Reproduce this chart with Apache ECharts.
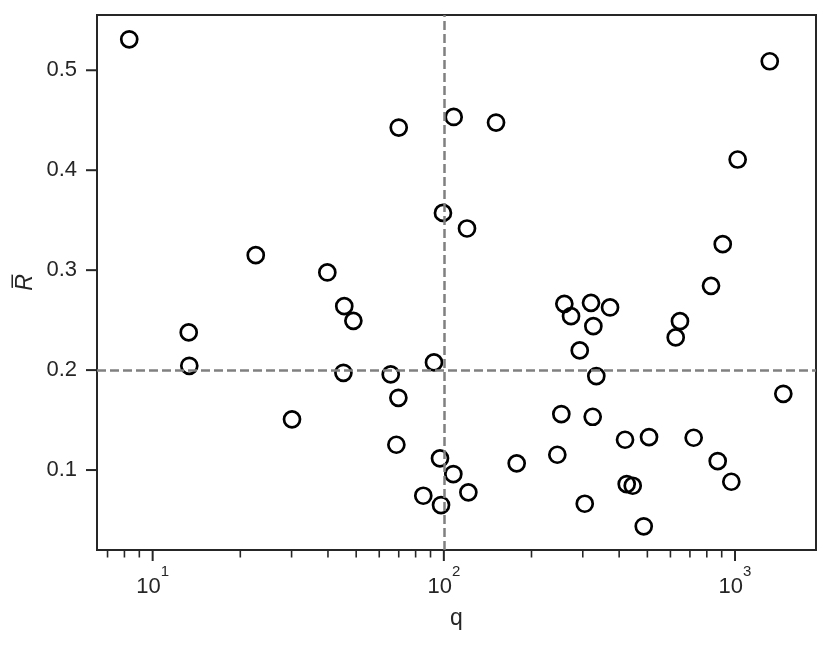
<!DOCTYPE html>
<html>
<head>
<meta charset="utf-8">
<script src="https://cdn.jsdelivr.net/npm/echarts@6/dist/echarts.min.js"></script>
<style>
  html, body { margin: 0; padding: 0; background: #fff; }
  #chart { width: 831px; height: 645px; }
</style>
</head>
<body>
<div id="chart"></div>
<script>
// values
const qValues = [8.31, 1316, 108.1, 70, 151.1, 1021, 99.3, 120.1, 907.4, 22.6,
  39.8, 827, 13.3, 45.5, 48.9, 259.3, 320.2, 372.2, 273.4, 326.2,
  647, 625.6, 292.9, 13.36, 92.5, 45.2, 65.7, 333.9, 1465, 69.8,
  30.1, 253.2, 324.5, 68.7, 419, 506.6, 721, 245.3, 97, 107.8,
  177.9, 872, 971, 424.6, 445.3, 85, 121.4, 97.8, 304.7, 485.8];
const rValues = [0.531, 0.509, 0.4533, 0.4427, 0.4477, 0.4107, 0.3573, 0.3417, 0.326, 0.315,
  0.2977, 0.2843, 0.2377, 0.264, 0.2493, 0.2663, 0.2673, 0.2627, 0.254, 0.244,
  0.249, 0.2327, 0.2197, 0.2043, 0.2077, 0.1973, 0.1957, 0.194, 0.1763, 0.1723,
  0.1507, 0.156, 0.1533, 0.1253, 0.1303, 0.133, 0.1323, 0.1153, 0.1117, 0.096,
  0.1067, 0.109, 0.0883, 0.086, 0.0843, 0.0743, 0.0777, 0.065, 0.0663, 0.0437];

// reference lines
const refQ = 100;
const refR = 0.1973;

// ticks
const xMajorTicks = [10, 100, 1000];
const xMinorTicks = [7, 8, 9, 20, 30, 40, 50, 60, 70, 80, 90,
  200, 300, 400, 500, 600, 700, 800, 900];
const yTicks = [0.1, 0.2, 0.3, 0.4, 0.5];
const yTickLabels = ['0.1', '0.2', '0.3', '0.4', '0.5'];

const xMin = 6.44, xMax = 1897;
const yMin = 0.02, yMax = 0.5553;

const ink = '#262626';
const font = "'Liberation Sans', Arial, sans-serif";

const chart = echarts.init(document.getElementById('chart'));

const isPow10 = (v) => {
  const e = Math.log10(v);
  return Math.abs(e - Math.round(e)) < 1e-6;
};

// tick marks drawn through the axis scales
const tickSeries = (data, dir, len, width) => ({
  type: 'custom',
  silent: true,
  z: 5,
  clip: false,
  data: data,
  encode: { x: 0, y: 1 },
  renderItem: (params, api) => {
    const p = api.coord([api.value(0), api.value(1)]);
    const x2 = dir === 'x' ? p[0] : p[0] - len;
    const y2 = dir === 'x' ? p[1] + len : p[1];
    return {
      type: 'line',
      shape: { x1: p[0], y1: p[1], x2: x2, y2: y2 },
      style: { stroke: ink, lineWidth: width }
    };
  }
});

const option = {
  animation: false,
  backgroundColor: '#fff',
  grid: {
    left: 97, right: 15, top: 15, bottom: 95,
    show: true, borderColor: ink, borderWidth: 2, backgroundColor: 'transparent'
  },
  xAxis: {
    type: 'log',
    logBase: 10,
    min: xMin,
    max: xMax,
    name: 'q',
    nameLocation: 'middle',
    nameGap: 57,
    nameTextStyle: { fontSize: 23, color: ink, fontFamily: font },
    axisLine: { show: true, lineStyle: { color: ink, width: 2 } },
    axisTick: { show: false },
    splitLine: { show: false },
    axisLabel: {
      margin: 14,
      fontSize: 22,
      color: ink,
      fontFamily: font,
      formatter: (v) => isPow10(v) ? '{b|10}{s|' + Math.round(Math.log10(v)) + '}' : '',
      rich: {
        b: { fontSize: 22, fontFamily: font, color: ink, lineHeight: 34, verticalAlign: 'bottom' },
        s: { fontSize: 15, fontFamily: font, color: ink, lineHeight: 15, verticalAlign: 'top' }
      }
    }
  },
  yAxis: {
    type: 'value',
    min: yMin,
    max: yMax,
    name: 'R\u0305',
    nameLocation: 'middle',
    nameRotate: 90,
    nameGap: 60,
    nameTextStyle: { fontSize: 23, color: ink, fontFamily: font, fontStyle: 'italic' },
    axisLine: { show: true, lineStyle: { color: ink, width: 2 } },
    axisTick: { show: false },
    axisLabel: { show: false },
    splitLine: { show: false }
  },
  series: [
    {
      type: 'scatter',
      data: [],
      z: 1,
      silent: true,
      markLine: {
        silent: true,
        symbol: 'none',
        label: { show: false },
        lineStyle: { color: '#808080', width: 2.5, type: [9, 4], opacity: 1 },
        data: [{ xAxis: refQ }, { yAxis: refR }]
      }
    },
    {
      type: 'scatter',
      z: 3,
      symbol: 'circle',
      symbolSize: 16,
      itemStyle: { color: 'rgba(0,0,0,0)', borderColor: '#000', borderWidth: 2.7, opacity: 1 },
      data: qValues.map((q, i) => [q, rValues[i]])
    },
    tickSeries(xMajorTicks.map(v => [v, yMin]), 'x', 11, 2),
    tickSeries(xMinorTicks.map(v => [v, yMin]), 'x', 7.5, 1.6),
    tickSeries(yTicks.map(v => [xMin, v]), 'y', 11, 2),
    {
      // y tick labels placed through the y scale
      type: 'custom',
      silent: true,
      clip: false,
      z: 5,
      data: yTicks.map((v, i) => [xMin, v, yTickLabels[i]]),
      encode: { x: 0, y: 1 },
      renderItem: (params, api) => {
        const p = api.coord([api.value(0), api.value(1)]);
        return {
          type: 'text',
          x: p[0] - 20,
          y: p[1],
          style: {
            text: yTickLabels[params.dataIndex],
            fill: ink,
            font: '22px ' + font,
            align: 'right',
            verticalAlign: 'middle'
          }
        };
      }
    }
  ]
};

chart.setOption(option);
</script>
</body>
</html>
